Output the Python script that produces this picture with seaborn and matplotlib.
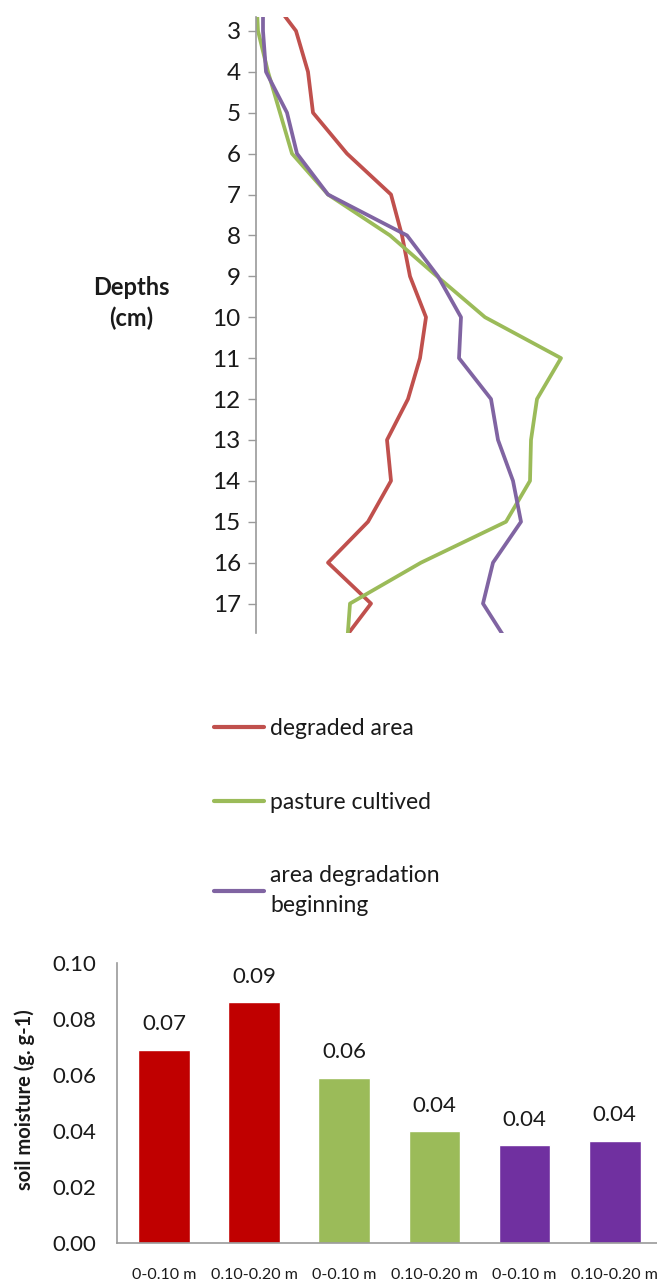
import pandas as pd
import seaborn as sns
import matplotlib.pyplot as plt

# --- data ---
depths = [2, 3, 4, 5, 6, 7, 8, 9, 10, 11, 12, 13, 14, 15, 16, 17, 18]
degraded = [0.09, 0.40, 0.52, 0.57, 0.91, 1.35, 1.46, 1.54, 1.70, 1.64, 1.52, 1.31, 1.35, 1.12, 0.72, 1.15, 0.84]
pasture = [0.00, 0.02, 0.12, 0.24, 0.36, 0.72, 1.34, 1.81, 2.29, 3.05, 2.81, 2.75, 2.74, 2.50, 1.65, 0.94, 0.91]
beginning = [0.07, 0.07, 0.10, 0.31, 0.41, 0.72, 1.51, 1.82, 2.05, 2.03, 2.35, 2.42, 2.57, 2.65, 2.37, 2.27, 2.53]
series_names = ['degraded area', 'pasture cultived', 'area degradation\nbeginning']
line_colors = ['#C0504D', '#9BBB59', '#8064A2']

layers = ['0-0.10 m', '0.10-0.20 m', '0-0.10 m', '0.10-0.20 m', '0-0.10 m', '0.10-0.20 m']
moisture = [0.069, 0.086, 0.059, 0.040, 0.035, 0.0365]
bar_colors = ['#C00000', '#C00000', '#9BBB59', '#9BBB59', '#7030A0', '#7030A0']

sns.set_style('white')
plt.rcParams['font.family'] = ['Lato', 'DejaVu Sans']
plt.rcParams['text.color'] = '#1a1a1a'

W, H = 657, 1283
fig = plt.figure(figsize=(W / 100, H / 100), dpi=100)

# --- depth profile ---
df = pd.DataFrame({
    'depth': depths * 3,
    'value': degraded + pasture + beginning,
    'area': [series_names[0]] * len(depths) + [series_names[1]] * len(depths) + [series_names[2]] * len(depths),
})

ax1 = fig.add_axes([256 / W, 1 - 633 / H, 340 / W, (633 - 17) / H])
sns.lineplot(data=df, x='value', y='depth', hue='area', orient='y', sort=False,
             palette=dict(zip(series_names, line_colors)), linewidth=2.7, ax=ax1)
ax1.set_xlim(0, 3.4)
ax1.set_ylim(17.72, 2.66)
ax1.set_yticks(range(3, 18))
ax1.set_xticks([])
ax1.set_xlabel('')
ax1.set_ylabel('')
for s in ['top', 'right', 'bottom']:
    ax1.spines[s].set_visible(False)
ax1.spines['left'].set_color('#9a9a9a')
ax1.spines['left'].set_linewidth(1.2)
ax1.tick_params(axis='y', left=True, length=6, width=1, color='#9a9a9a', pad=5,
                labelsize=17.5, labelcolor='#1a1a1a')

handles, labels = ax1.get_legend_handles_labels()
ax1.get_legend().remove()
leg = fig.legend(handles, labels, loc='upper left', bbox_to_anchor=(214 / W, 1 - 718 / H),
                 frameon=False, fontsize=16.5, handlelength=2.2, handletextpad=0.25,
                 labelspacing=2.3, borderpad=0, borderaxespad=0)
for t in leg.get_texts():
    t.set_linespacing(1.5)
for h in leg.get_lines():
    h.set_linewidth(3)

fig.text(131 / W, 1 - 303 / H, 'Depths\n(cm)', ha='center', va='center',
         fontsize=17, fontweight='bold', linespacing=1.4)

# --- soil moisture bars ---
bars = pd.DataFrame({'bar': [str(i) for i in range(len(moisture))], 'moisture': moisture})

ax2 = fig.add_axes([117.3 / W, 1 - 1242.7 / H, (W - 117.3) / W, (1242.7 - 963) / H])
sns.barplot(data=bars, x='bar', y='moisture', hue='bar', palette=bar_colors,
            legend=False, width=0.575, saturation=1, ax=ax2)
ax2.set_xlim(-0.52, 5.47)
ax2.set_ylim(0, 0.10)
ax2.set_yticks([0, 0.02, 0.04, 0.06, 0.08, 0.10])
ax2.set_yticklabels(['%.2f' % v for v in [0, 0.02, 0.04, 0.06, 0.08, 0.10]])
ax2.set_xticks(range(len(layers)))
ax2.set_xticklabels(layers)
ax2.set_xlabel('')
ax2.set_ylabel('')
for s in ['top', 'right']:
    ax2.spines[s].set_visible(False)
for s in ['left', 'bottom']:
    ax2.spines[s].set_color('#9a9a9a')
    ax2.spines[s].set_linewidth(1.2)
ax2.tick_params(axis='y', length=0, pad=15, labelsize=16, labelcolor='#1a1a1a')
ax2.tick_params(axis='x', length=0, pad=18, labelsize=11.5, labelcolor='#1a1a1a')

for c in ax2.containers:
    ax2.bar_label(c, fmt='%.2f', padding=11, fontsize=16, color='#1a1a1a')

fig.text(25 / W, 1 - 1100 / H, 'soil moisture (g. g-1)', rotation=90, ha='center', va='center',
         fontsize=14.5, fontweight='bold')

fig.savefig('out.png', dpi=100)
